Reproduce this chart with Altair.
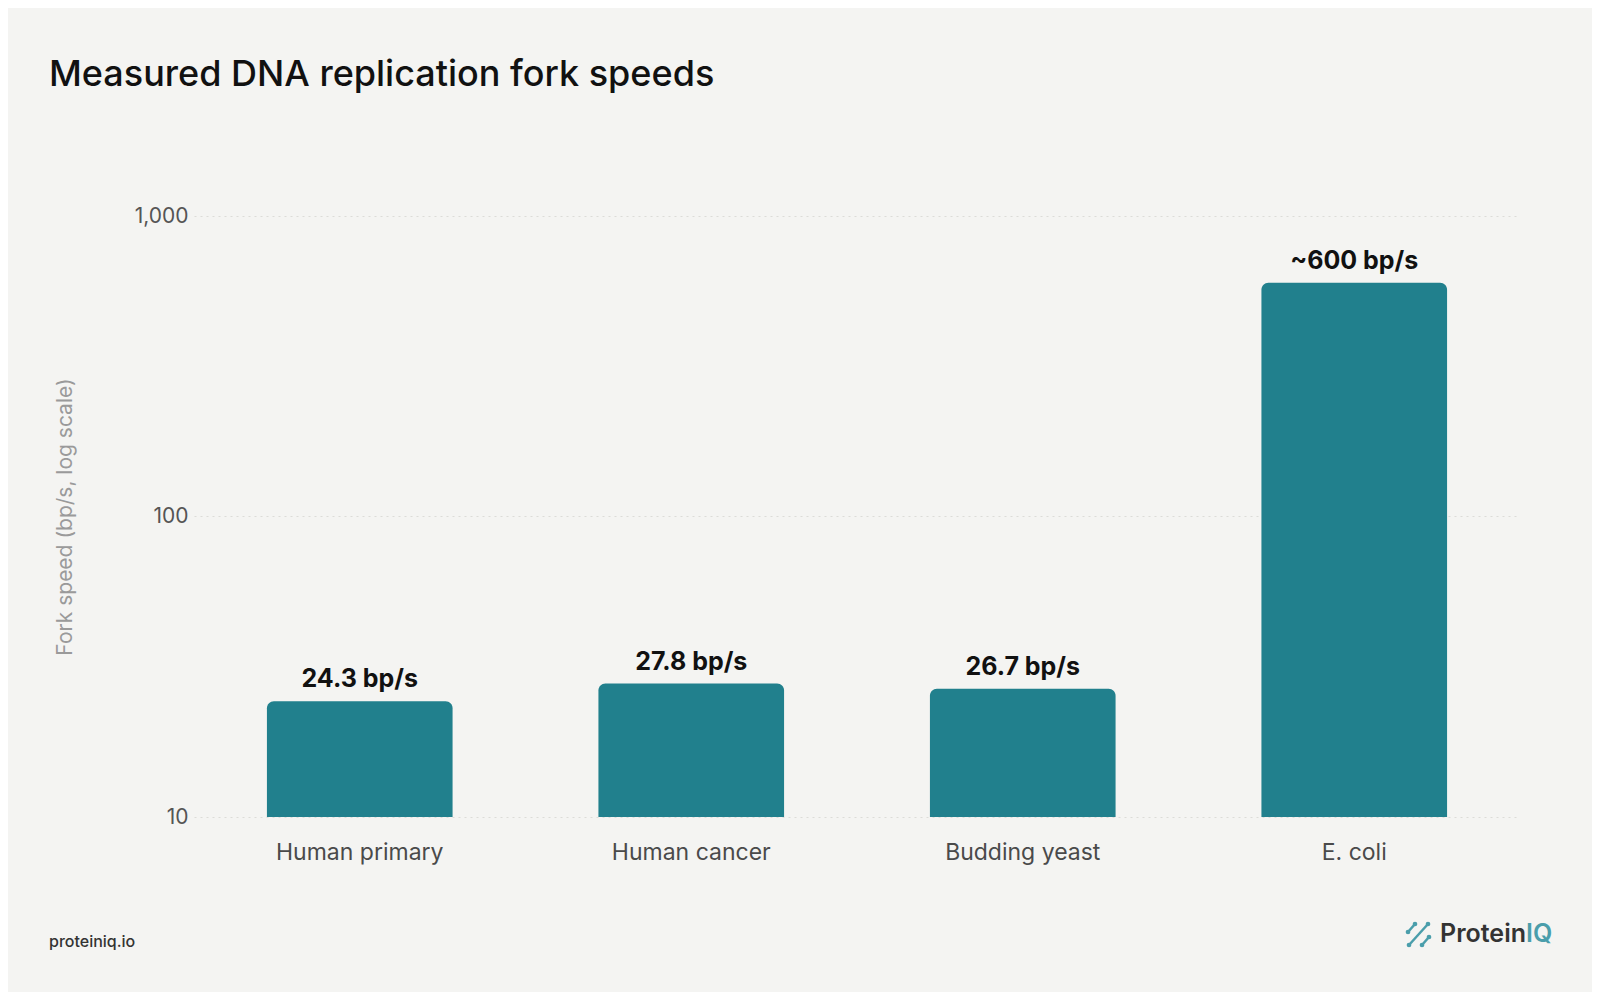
import altair as alt
import pandas as pd

categories = ["Human primary", "Human cancer", "Budding yeast", "E. coli"]
speeds = [24.3, 27.8, 26.7, 600]
labels = ["24.3 bp/s", "27.8 bp/s", "26.7 bp/s", "~600 bp/s"]
y_ticks = [10, 100, 1000]

df = pd.DataFrame({"cat": categories, "speed": speeds, "label": labels})

BG = "#F4F4F2"
TEAL = "#21808D"
LOGO = "#4A9EAB"
FONT = "Inter"

W, H = 1326, 601

x_enc = alt.X("cat:N", sort=categories, title=None,
              scale=alt.Scale(paddingInner=0.44, paddingOuter=0.22),
              axis=alt.Axis(labelFontSize=23, labelColor="#4a4a4a", labelFont=FONT,
                            labelPadding=24, ticks=False, domain=False, labelAngle=0))
y_enc = alt.Y("speed:Q", title="Fork speed (bp/s, log scale)",
              scale=alt.Scale(type="log", domain=[10, 1000]),
              axis=alt.Axis(values=y_ticks, format=",", labelFontSize=21, labelColor="#555555",
                            labelFont=FONT, labelPadding=6, ticks=False, domain=False,
                            grid=True, gridColor="#dcdcd8", gridDash=[2, 4], gridWidth=1,
                            titleFont=FONT, titleFontSize=21, titleFontWeight="normal",
                            titleColor="#9a9a9a", titleX=-129, titleY=H / 2,
                            titleAngle=270, titleAlign="center", titleBaseline="middle"))

bars = alt.Chart(df).mark_bar(color=TEAL, cornerRadiusTopLeft=7, cornerRadiusTopRight=7).encode(
    x=x_enc, y=y_enc, y2=alt.datum(10)
)

text = alt.Chart(df).mark_text(font=FONT, fontSize=25, fontWeight="bold", color="#111111",
                               baseline="alphabetic", dy=-14).encode(
    x=alt.X("cat:N", sort=categories), y=alt.Y("speed:Q"), text="label:N"
)

one = pd.DataFrame({"a": [0]})

title = alt.Chart(one).mark_text(text="Measured DNA replication fork speeds", font=FONT,
                                 fontSize=36, fontWeight=500, color="#111111",
                                 align="left", baseline="alphabetic").encode(
    x=alt.value(-145), y=alt.value(-130))

footer = alt.Chart(one).mark_text(text="proteiniq.io", font=FONT, fontSize=16, fontWeight=500,
                                  color="#333333", align="left", baseline="alphabetic").encode(
    x=alt.value(-145), y=alt.value(731))

logo1 = alt.Chart(one).mark_text(text="Protein", font=FONT, fontSize=25, fontWeight=600,
                                 color="#333333", align="right", baseline="alphabetic").encode(
    x=alt.value(1332), y=alt.value(726))
logo2 = alt.Chart(one).mark_text(text="IQ", font=FONT, fontSize=25, fontWeight=600,
                                 color=LOGO, align="left", baseline="alphabetic").encode(
    x=alt.value(1332), y=alt.value(726))

# logo icon (decorative)
icon_lines = [
    (1214, 716, 1221, 708),
    (1215, 729, 1234, 708),
    (1228, 729, 1235, 721),
]
icon_layers = []
for (x1, y1, x2, y2) in icon_lines:
    icon_layers.append(alt.Chart(one).mark_rule(color=LOGO, strokeWidth=2.5).encode(
        x=alt.value(x1), y=alt.value(y1), x2=alt.value(x2), y2=alt.value(y2)))
    for (px, py) in [(x1, y1), (x2, y2)]:
        icon_layers.append(alt.Chart(one).mark_point(color=LOGO, filled=True, size=22, opacity=1).encode(
            x=alt.value(px), y=alt.value(py)))

chart = alt.layer(bars, text, title, footer, logo1, logo2, *icon_layers).properties(
    width=W, height=H, background=BG,
    autosize=alt.AutoSizeParams(type="none"),
    padding={"left": 186, "top": 208, "right": 72, "bottom": 175},
).configure_view(stroke=None)

chart.save("out.html", embed_options={"renderer": "svg", "actions": False})
